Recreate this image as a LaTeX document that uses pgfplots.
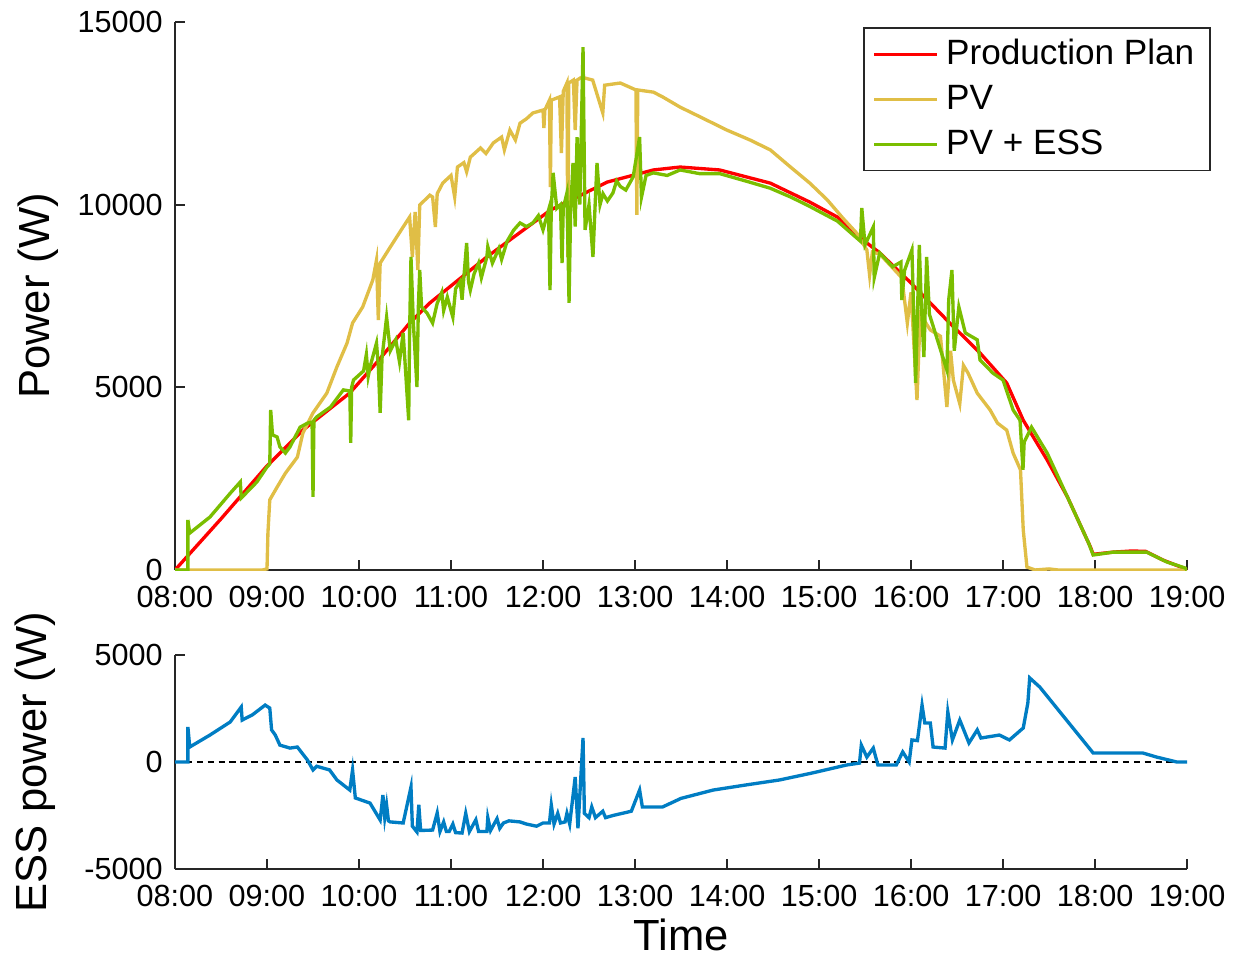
\documentclass[border=0pt]{standalone}
\usepackage{fontspec}
\setmainfont{Liberation Sans}
\usepackage{pgfplots}
\pgfplotsset{compat=1.18}

\definecolor{planred}{RGB}{255,0,0}
\definecolor{pvyellow}{RGB}{224,190,70}
\definecolor{essgreen}{RGB}{122,190,0}
\definecolor{essblue}{RGB}{0,125,195}

\pgfplotsset{
  mlaxis/.style={
    scale only axis, width=10.12cm,
    xmin=8, xmax=19,
    axis x line*=bottom, axis y line*=left,
    axis line style={-, line width=0.6pt, black!85},
    tick align=inside, major tick length=0.1cm,
    tick style={line width=0.6pt, black!85},
    xtick={8,...,19},
    xticklabels={08:00,09:00,10:00,11:00,12:00,13:00,14:00,15:00,16:00,17:00,18:00,19:00},
    scaled y ticks=false,
    ticklabel style={font=\fontsize{8.7}{10}\selectfont},
    xticklabel style={yshift=-1.2pt},
    label style={font=\fontsize{12.4}{14}\selectfont},
    /pgf/number format/assume math mode=true,
    every axis plot/.append style={line width=0.95pt},
  }
}

\begin{document}
\begin{tikzpicture}
\useasboundingbox (0,0) rectangle (12.36cm,-9.62cm);

% upper panel: plan, PV, PV + ESS
\begin{axis}[mlaxis,
    at={(1.75cm,-5.70cm)}, anchor=south west, height=5.48cm,
    ymin=0, ymax=15000,
    ytick={0,5000,10000,15000}, yticklabels={0,5000,10000,15000},
    ylabel={Power (W)},
    ylabel style={at={(axis description cs:-0.1354,0.5)}, anchor=center},
    legend image code/.code={\draw[#1] (0cm,0cm) -- (0.63cm,0cm);},
    legend cell align=left,
    legend style={at={(rel axis cs:1.0237,0.9909)}, anchor=north east,
      draw=black!85, line width=0.5pt, font=\fontsize{10}{12}\selectfont,
      inner xsep=2.5pt, inner ysep=1.2pt, row sep=0.3pt},
]
\addplot[planred] coordinates {
(8.0,0) (8.5,1400) (9.0,2850) (9.39,3830) (9.9,4845) (10.2,5700) (10.55,6760)
(10.77,7310) (11.39,8570) (12.08,9850) (12.70,10620) (13.20,10950) (13.49,11030)
(13.92,10950) (14.47,10590) (14.90,10070) (15.20,9660) (15.48,9030) (15.66,8680)
(15.99,7880) (16.39,6840) (16.75,5940) (17.04,5120) (17.22,4100) (17.48,3010)
(17.70,2000) (17.95,630) (17.98,430) (18.2,490) (18.4,520) (18.55,510)
(18.74,270) (18.96,55) (19.0,0)
};
\addlegendentry{Production Plan}

\addplot[pvyellow] coordinates {
(8,0) (8.95,0) (9.0,30) (9.01,1010) (9.03,1920) (9.11,2270) (9.20,2650) (9.33,3090)
(9.39,3750) (9.5,4300) (9.65,4840) (9.76,5560) (9.87,6210) (9.93,6760) (10.04,7200)
(10.15,7940) (10.19,8480) (10.21,6840) (10.23,8400) (10.34,8840) (10.48,9390)
(10.55,9660) (10.58,8570) (10.61,9800) (10.64,8210) (10.66,9990) (10.77,10260)
(10.80,10210) (10.83,9390) (10.85,10300) (10.91,10590) (11.0,10800) (11.04,10210)
(11.07,11030) (11.14,11150) (11.17,10900) (11.21,11300) (11.32,11550) (11.38,11400)
(11.46,11690) (11.55,11850) (11.58,11500) (11.64,12040) (11.70,11770) (11.75,12230)
(11.82,12350) (11.89,12510) (12.0,12590) (12.01,12100) (12.02,12590) (12.07,12860)
(12.08,10480) (12.09,12860) (12.18,12950) (12.20,11410) (12.22,13100) (12.26,13330)
(12.27,8570) (12.28,13330) (12.33,13410) (12.35,12040) (12.37,13410) (12.42,13490)
(12.54,13410) (12.65,12510) (12.67,13270) (12.84,13330) (13.01,13140) (13.02,9720)
(13.03,13140) (13.20,13080) (13.30,12950) (13.49,12670) (13.71,12400) (14.0,12040)
(14.25,11770) (14.47,11500) (14.69,11030) (14.90,10590) (15.09,10130) (15.26,9630)
(15.41,9220) (15.52,8760) (15.55,8070) (15.58,8700) (15.66,8650) (15.90,8000)
(15.96,6760) (16.0,7600) (16.065,4650) (16.10,7000) (16.21,6570) (16.32,6400)
(16.39,4460) (16.43,6000) (16.46,5200) (16.53,4550) (16.57,5600) (16.62,5390)
(16.72,4840) (16.86,4380) (16.94,4020) (17.04,3830) (17.11,3200) (17.19,2740)
(17.22,1095) (17.26,80) (17.35,0) (17.5,30) (17.6,0) (19,0)
};
\addlegendentry{PV}

\addplot[essgreen] coordinates {
(8,0) (8.14,0) (8.14,1370) (8.16,1010) (8.38,1450) (8.60,2100) (8.71,2410) (8.72,1970)
(8.89,2410) (9.0,2820) (9.03,2900) (9.04,4380) (9.06,3700) (9.11,3640) (9.14,3370)
(9.20,3200) (9.25,3370) (9.36,3910) (9.44,4020) (9.49,4050) (9.50,2000) (9.51,4100)
(9.54,4190) (9.69,4460) (9.83,4930) (9.90,4900) (9.91,3480) (9.92,5000) (9.94,5200)
(10.05,5450) (10.08,5900) (10.10,5300) (10.12,5560) (10.19,6210) (10.21,5600)
(10.23,4300) (10.25,5800) (10.30,6920) (10.34,6000) (10.40,6300) (10.44,5700)
(10.48,6490) (10.54,4100) (10.55,6500) (10.565,8570) (10.59,6800) (10.63,5010)
(10.645,7200) (10.66,8210) (10.68,7200) (10.74,7030) (10.80,6760) (10.85,7300)
(10.90,7600) (10.92,7100) (10.96,7470) (11.02,6920) (11.05,7700) (11.10,7900)
(11.12,7400) (11.17,8950) (11.19,7900) (11.21,7660) (11.25,8100) (11.30,8400)
(11.33,8000) (11.39,8570) (11.40,8850) (11.45,8400) (11.52,8800) (11.55,8500)
(11.61,9000) (11.68,9300) (11.75,9500) (11.82,9400) (11.89,9500) (11.95,9700)
(12.0,9310) (12.06,9850) (12.076,7660) (12.09,9900) (12.11,10870) (12.15,9900)
(12.19,10000) (12.207,8400) (12.22,9900) (12.26,10320) (12.283,7310) (12.30,9800)
(12.326,11140) (12.35,9400) (12.37,11850) (12.40,10000) (12.435,14310) (12.457,9310)
(12.50,10000) (12.543,8570) (12.57,10200) (12.587,11140) (12.62,10000) (12.652,10300)
(12.70,10100) (12.76,10320) (12.80,10650) (12.84,10500) (12.90,10400) (12.98,10760)
(13.05,11850) (13.07,10200) (13.12,10800) (13.20,10870) (13.35,10800) (13.49,10950)
(13.70,10850) (13.92,10850) (14.20,10650) (14.47,10450) (14.70,10200) (14.90,9950)
(15.20,9550) (15.45,9000) (15.465,9910) (15.50,8900) (15.59,9390) (15.60,8000)
(15.66,8680) (15.80,8300) (15.89,8430) (15.90,7390) (15.93,8200) (16.01,8760)
(16.05,5120) (16.09,8900) (16.11,7400) (16.14,5830) (16.17,8570) (16.20,7000)
(16.39,5470) (16.41,7400) (16.445,8210) (16.47,6000) (16.52,7200) (16.59,6490)
(16.72,6300) (16.75,5750) (16.89,5390) (17.0,5200) (17.11,4380) (17.185,4100)
(17.217,2740) (17.23,3500) (17.31,3910) (17.48,3200) (17.70,2000) (17.93,740)
(17.98,410) (18.2,490) (18.56,490) (18.78,220) (18.98,55) (19.0,0)
};
\addlegendentry{PV + ESS}
\end{axis}

% lower panel: storage power
\begin{axis}[mlaxis,
    at={(1.75cm,-8.69cm)}, anchor=south west, height=2.14cm,
    ymin=-5000, ymax=5000,
    ytick={-5000,0,5000}, yticklabels={-5000,0,5000},
    xlabel={Time}, ylabel={ESS power (W)},
    xlabel style={at={(axis description cs:0.5,-0.308)}, anchor=center},
    ylabel style={at={(axis description cs:-0.138,0.5)}, anchor=center},
]
\addplot[black, line width=0.45pt, dash pattern=on 1.8pt off 1.3pt] coordinates {(8,0) (19,0)};
\addplot[essblue] coordinates {
(8,0) (8.14,0) (8.14,1640) (8.16,700) (8.38,1260) (8.60,1870) (8.72,2570) (8.73,1960)
(8.84,2200) (8.98,2660) (9.03,2520) (9.05,1500) (9.09,1260) (9.14,790) (9.25,650)
(9.33,700) (9.44,90) (9.50,-370) (9.54,-200) (9.68,-370) (9.76,-840) (9.90,-1310)
(9.93,-370) (9.96,-1680) (10.12,-1920) (10.23,-2710) (10.26,-1540) (10.28,-2600)
(10.30,-2010) (10.32,-2750) (10.34,-2800) (10.48,-2850) (10.565,-1170) (10.58,-3000)
(10.63,-3270) (10.65,-2000) (10.67,-3200) (10.80,-3180) (10.85,-2380) (10.88,-3250)
(10.92,-2800) (10.95,-3250) (10.98,-3250) (11.02,-2900) (11.05,-3300) (11.12,-3320)
(11.16,-2400) (11.20,-3250) (11.27,-2700) (11.30,-3250) (11.39,-3250) (11.40,-2600)
(11.43,-3200) (11.50,-2650) (11.53,-3100) (11.57,-2850) (11.63,-2750) (11.75,-2800)
(11.82,-2900) (11.93,-3000) (12.0,-2850) (12.07,-2850) (12.09,-2010) (12.12,-2900)
(12.16,-2400) (12.19,-2850) (12.24,-2800) (12.26,-2400) (12.29,-2900) (12.35,-700)
(12.38,-3100) (12.435,1120) (12.45,-2400) (12.50,-2600) (12.53,-2100) (12.57,-2600)
(12.65,-2300) (12.68,-2600) (12.76,-2500) (12.96,-2300) (13.05,-1310) (13.08,-2100)
(13.30,-2100) (13.5,-1700) (13.85,-1310) (14.21,-1070) (14.57,-840) (14.93,-510)
(15.30,-140) (15.44,-50) (15.46,790) (15.52,230) (15.59,650) (15.64,-140) (15.84,-140)
(15.91,470) (15.98,0) (16.01,1030) (16.07,1000) (16.12,2660) (16.15,1820) (16.21,1820)
(16.24,700) (16.37,650) (16.40,2340) (16.45,1030) (16.53,1960) (16.63,890) (16.72,1500)
(16.76,1120) (16.96,1260) (17.07,1030) (17.22,1590) (17.27,2760) (17.29,3930)
(17.40,3500) (17.98,420) (18.16,420) (18.52,420) (18.67,230) (18.89,0) (19.0,0)
};
\end{axis}
\end{tikzpicture}
\end{document}
